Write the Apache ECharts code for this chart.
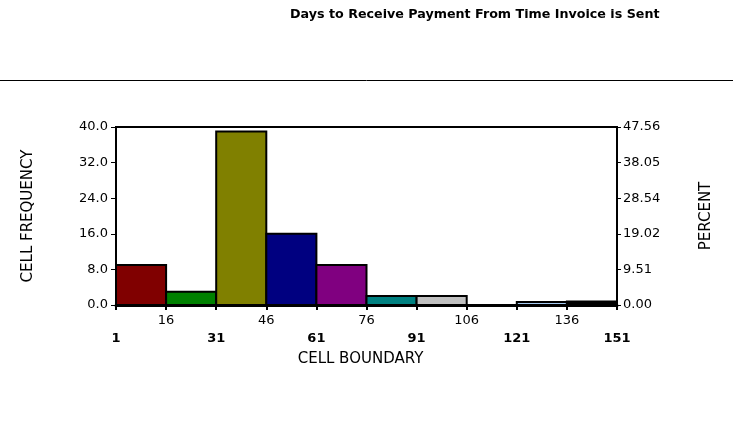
<!DOCTYPE html>
<html>
<head>
<meta charset="utf-8">
<script src="https://cdn.jsdelivr.net/npm/echarts@6/dist/echarts.min.js"></script>
<style>
  html, body { margin: 0; padding: 0; background: #fff; }
  #chart { width: 733px; height: 430px; }
</style>
</head>
<body>
<div id="chart"></div>
<script>
// histogram bins: start of each cell, all cells are 15 days wide
const binStarts = [1, 16, 31, 46, 61, 76, 91, 106, 121, 136];
const binWidth = 15;
const frequencies = [9, 3, 39, 16, 9, 2, 2, 0, 0.7, 0.8];
const barColors = ['#800000', '#008000', '#808000', '#000080', '#800080',
                   '#008080', '#c0c0c0', '#ffffff', '#a6caf0', '#000000'];
const boundaries = [1, 16, 31, 46, 61, 76, 91, 106, 121, 136, 151];
const upperLabels = [16, 46, 76, 106, 136];
const lowerLabels = [1, 31, 61, 91, 121, 151];
const percentLabels = ['0.00', '9.51', '19.02', '28.54', '38.05', '47.56'];

const FONT = 'DejaVu Sans';
const chart = echarts.init(document.getElementById('chart'));

chart.setOption({
  animation: false,
  textStyle: { fontFamily: FONT, color: '#000' },
  title: {
    text: 'Days to Receive Payment From Time Invoice is Sent',
    left: 285,
    top: 3,
    textStyle: { fontFamily: FONT, fontSize: 12.7, fontWeight: 'bold', color: '#000' }
  },
  graphic: [{
    type: 'line',
    shape: { x1: 0, y1: 80.5, x2: 733, y2: 80.5 },
    style: { stroke: '#000', lineWidth: 1 }
  }],
  grid: {
    left: 116, right: 116, top: 127, bottom: 125,
    show: true, borderColor: '#000', borderWidth: 2
  },
  xAxis: [{
    type: 'value',
    min: 1, max: 151,
    position: 'bottom',
    axisLine: { lineStyle: { color: '#000', width: 3 } },
    axisTick: { customValues: boundaries, length: 5, lineStyle: { color: '#000', width: 2 } },
    axisLabel: { customValues: upperLabels, color: '#000', fontFamily: FONT, fontSize: 13, margin: 9 },
    splitLine: { show: false }
  }, {
    type: 'value',
    min: 1, max: 151,
    position: 'bottom',
    offset: 18,
    axisLine: { show: false },
    axisTick: { show: false },
    axisLabel: { customValues: lowerLabels, color: '#000', fontFamily: FONT, fontSize: 13, fontWeight: 'bold', margin: 9 },
    splitLine: { show: false },
    name: 'CELL BOUNDARY',
    nameLocation: 'middle',
    nameGap: 29,
    nameTextStyle: { fontFamily: FONT, fontSize: 15, color: '#000', padding: [0, 12, 0, 0] }
  }],
  yAxis: [{
    type: 'value',
    min: 0, max: 40, interval: 8,
    position: 'left',
    axisLine: { show: true, lineStyle: { color: '#000', width: 2 } },
    axisTick: { show: true, length: 5, lineStyle: { color: '#000' } },
    axisLabel: { color: '#000', fontFamily: FONT, fontSize: 13, margin: 8, formatter: v => v.toFixed(1) },
    splitLine: { show: false },
    name: 'CELL FREQUENCY',
    nameLocation: 'middle',
    nameRotate: 90,
    nameGap: 80,
    nameTextStyle: { fontFamily: FONT, fontSize: 15, color: '#000' }
  }, {
    type: 'value',
    min: 0, max: 40, interval: 8,
    position: 'right',
    axisLine: { show: true, lineStyle: { color: '#000', width: 2 } },
    axisTick: { show: true, length: 4, lineStyle: { color: '#000' } },
    axisLabel: { color: '#000', fontFamily: FONT, fontSize: 13, margin: 6,
                 formatter: v => percentLabels[Math.round(v / 8)] },
    splitLine: { show: false },
    name: 'PERCENT',
    nameLocation: 'middle',
    nameRotate: 90,
    nameGap: 82,
    nameTextStyle: { fontFamily: FONT, fontSize: 15, color: '#000' }
  }],
  series: [{
    type: 'custom',
    xAxisIndex: 0,
    yAxisIndex: 0,
    data: binStarts.map((s, i) => [s, frequencies[i]]),
    encode: { x: 0, y: 1 },
    renderItem: (params, api) => {
      const start = api.value(0);
      const top = api.coord([start, api.value(1)]);
      const base = api.coord([start + binWidth, 0]);
      return {
        type: 'rect',
        shape: { x: top[0], y: top[1], width: base[0] - top[0], height: base[1] - top[1] },
        style: { fill: barColors[params.dataIndex], stroke: '#000', lineWidth: 2 }
      };
    }
  }]
});
</script>
</body>
</html>
